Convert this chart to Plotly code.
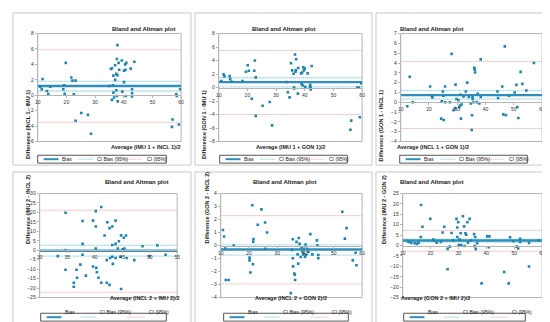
import plotly.graph_objects as go

# ---------------- data ----------------
p1_x = [11.7, 10.9, 11.4, 13.2, 13.7, 14.4, 18.9, 19.2, 19.4, 19.8, 21.7, 22.1, 22.6, 23.2, 23.2, 25.2, 27.5, 28.6,
        34.9, 35.5, 35.9, 35.9, 36.2, 36.4, 36.4, 36.6, 37.0, 37.0, 37.4, 37.4, 37.6, 37.6, 37.8, 37.8, 37.9, 38.2,
        38.4, 39.3, 39.5, 40.1, 40.1, 40.5, 40.6, 40.7, 40.9, 42.4, 42.9, 42.9, 42.9, 43.7, 56.8, 57.0, 58.3, 58.5,
        59.2, 59.7]
p1_y = [2.1, 1.1, 0.77, 0.55, 0.17, 1.1, 0.77, 1.28, 0.2, 4.2, 2.3, 1.9, 0.13, 1.9, -3.3, -2.3, -2.55, -5.0,
        1.2, 3.4, 3.5, -0.6, 1.28, 0.34, 2.55, -0.3, 3.9, 2.0, 2.77, 0.64, 4.7, -0.09, 6.5, 2.6, -0.8, 4.2,
        3.3, 4.5, 0.47, 1.7, 3.2, 4.0, 3.3, -0.1, 4.2, 3.45, 0.77, 0.26, -0.17, 4.35, -4.1, -3.15, 0.13, -0.1,
        -3.8, 0.77]

p2_x = [10.9, 11.7, 12.0, 13.8, 14.0, 14.4, 18.3, 19.5, 20.1, 20.5, 21.5, 22.4, 22.6, 22.9, 22.9, 25.3, 27.8, 28.6,
        33.6, 34.1, 34.7, 35.2, 35.6, 36.1, 36.2, 36.3, 36.6, 36.8, 36.9, 37.0, 37.6, 37.7, 38.7, 38.9, 39.1, 39.3,
        39.5, 39.7, 40.0, 40.2, 41.0, 41.9, 42.1, 42.1, 42.4, 41.8, 56.2, 55.9, 58.3, 58.9, 59.2, 59.7]
p2_y = [0.98, 1.95, 1.66, 1.7, 1.27, 0.88, 0.98, 2.34, 3.3, 2.5, -1.66, 2.5, 4.0, 1.5, -4.2, -2.7, -2.15, -5.6,
        0.83, -0.7, -1.46, 3.6, 2.54, 2.05, 0.0, -0.15, 4.9, 2.34, 2.54, 4.2, -0.9, 2.9, 2.1, 0.54, 2.24, 0.3,
        3.0, 2.54, 2.8, 0.1, 2.1, 0.4, -0.05, -0.3, 3.2, 0.1, -4.9, -6.25, 0.0, 0.0, -4.4, 0.63]

p3_x = [12.3, 13.2, 14.3, 20.4, 21.0, 21.2, 24.3, 24.5, 24.9, 25.1, 25.2, 25.7, 25.7, 27.4, 28.0, 28.7, 29.2, 29.4,
        29.7, 30.4, 30.7, 31.0, 31.1, 31.3, 31.5, 32.2, 33.0, 33.5, 34.1, 34.8, 35.1, 35.2, 35.4, 35.5, 35.7, 36.0,
        36.2, 36.3, 36.9, 37.2, 37.8, 38.3, 38.3, 44.2, 44.4, 45.9, 46.3, 46.8, 47.2, 48.3, 50.3, 50.9, 51.2, 51.6,
        52.4, 53.0, 54.4, 57.1]
p3_y = [-0.4, 2.6, 0.0, 1.6, 0.67, 0.5, -1.67, 0.1, 1.1, 0.67, -1.8, 1.6, 0.0, 0.0, 4.93, -0.8, -0.6, 1.8,
        0.33, 0.2, -0.5, -0.33, 0.77, -1.67, -0.23, 0.6, 1.1, 2.0, 0.53, -0.13, -2.83, -1.33, 0.5, 0.33, 0.0, 3.5,
        3.33, 3.03, 0.0, 0.87, -0.13, 4.37, 0.53, 1.1, 0.43, 1.6, -1.23, 5.7, -1.33, 0.67, 1.0, 1.77, -0.5, -1.6,
        3.1, 1.87, 1.2, 4.0]

p4_x = [33.3, 34.7, 34.7, 34.7, 36.2, 36.2, 36.7, 36.8, 37.4, 37.8, 37.8, 37.8, 38.4, 39.7, 39.7, 40.2, 40.2, 40.2,
        40.3, 40.4, 40.7, 41.2, 41.2, 41.8, 42.3, 42.2, 42.2, 42.7, 42.7, 42.8, 43.2, 43.2, 43.2, 43.3, 43.8, 43.8,
        43.8, 44.2, 44.4, 44.7, 44.8, 44.8, 45.1, 45.3, 45.4, 45.7, 45.8, 47.2, 48.7, 50.0, 51.4, 52.9]
p4_y = [-3.1, 19.8, 0.0, -10.3, -17.2, -19.3, -10.3, -14.5, -7.6, 15.5, 3.4, -2.4, -13.4, 15.7, -8.6, 20.7, 12.6, 0.9,
        -9.3, -11.6, -14.5, 22.9, -17.2, 7.8, 14.8, -5.2, -17.2, 11.7, -18.3, -4.1, 12.6, 2.8, -3.4, -7.2, 15.7, 3.4,
        -4.1, 0.9, 4.8, -3.4, -20.5, 7.9, 0.5, 6.6, 0.9, 7.8, -4.1, -5.2, 2.1, -3.1, 2.6, -2.4]

p5_x = [10.8, 11.2, 11.6, 11.8, 12.8, 14.6, 20.2, 20.2, 20.5, 21.2, 21.4, 21.6, 21.5, 23.1, 24.4, 25.7, 25.8, 26.4,
        35.2, 35.5, 35.5, 35.6, 36.0, 36.2, 36.3, 34.8, 36.8, 37.2, 37.4, 37.6, 37.9, 38.3, 38.6, 38.9, 39.2, 39.5,
        39.8, 40.0, 40.1, 40.5, 41.0, 41.7, 42.4, 44.0, 44.2, 44.5, 44.5, 53.0, 53.9, 54.5, 56.7, 57.7, 58.0]
p5_y = [1.19, 0.7, -0.23, -2.65, -2.65, 0.0, -0.93, -1.14, -2.07, 3.1, -1.44, 0.5, 0.3, 1.6, 2.78, 1.77, -0.25, 1.0,
        -0.33, 0.48, -0.98, -1.6, -2.15, -2.25, -2.65, -3.66, 0.28, -0.68, -1.39, 0.58, 0.13, -0.88, -0.13, -0.48, -0.68, -0.25,
        -0.88, 0.08, -0.73, -0.25, -0.48, 0.88, -0.68, 0.4, 0.0, -0.73, -0.98, 2.6, 0.53, 1.34, -1.14, -0.56, -1.52]

p6_x = [12.1, 13.1, 14.3, 15.1, 15.7, 16.6, 16.5, 17.1, 19.9, 21.0, 21.2, 22.2, 23.7, 24.3, 24.9, 26.1, 26.1, 26.9,
        27.5, 28.1, 29.3, 29.6, 29.9, 29.6, 30.1, 30.4, 30.8, 31.0, 31.6, 32.0, 32.2, 32.5, 32.8, 33.2, 33.4, 34.0,
        34.4, 35.6, 35.8, 36.0, 36.2, 36.7, 38.3, 40.3, 41.1, 40.9, 46.4, 48.0, 48.5, 49.7, 50.9, 51.4, 52.1, 52.1,
        55.3, 55.3, 58.8]
p6_y = [1.7, 1.3, 1.1, 0.8, 1.4, 19.5, 4.1, 9.0, 12.8, 2.85, 2.4, 1.4, 1.7, 6.3, 9.0, -11.4, -1.6, -0.5,
        6.0, 2.5, 12.8, 8.7, 11.2, 4.1, 0.2, 2.85, 5.9, 0.2, 14.1, 9.2, -0.2, 5.9, 5.2, 11.2, 1.4, 12.8,
        2.4, 5.5, -0.3, 4.1, -1.7, 1.1, -18.2, 4.4, 4.4, -0.8, -12.7, -18.2, 4.0, 2.1, -0.5, -1.4, 3.2, 1.7,
        -10.1, 1.3, 2.4]

bias = [1.2, 0.8, 0.73, -0.25, -0.3, 2.4]
ci_bias_hi = [1.8, 1.45, 1.2, 2.6, 0.05, 3.1]
ci_bias_lo = [0.55, 0.1, 0.33, -3.1, -0.73, 1.7]
loa_hi = [5.9, 5.5, 4.15, 21.2, 2.3, 7.3]
loa_lo = [-3.5, -4.0, -2.67, -22.2, -2.95, -2.7]

x_titles = ["Average (IMU 1 + INCL 1)/2", "Average (IMU 1 + GON 1)/2", "Average (INCL 1 + GON 1)/2",
            "Average (INCL 2 + IMU 2)/2", "Average (INCL 2 + GON 2)/2", "Average (GON 2 + IMU 2)/2"]
y_titles = ["Difference (INCL 1 - IMU 1)", "Difference (GON 1 - IMU 1)", "Difference (GON 1 - INCL 1)",
            "Difference (IMU 2 - INCL 2)", "Difference (GON 2 - INCL 2)", "Difference (IMU 2 - GON 2)"]
x_ranges = [[10, 60], [10, 60], [10, 60], [30, 55], [10, 60], [10, 60]]
x_dticks = [10, 10, 10, 5, 10, 10]
y_ranges = [[-6, 8], [-8, 8], [-4, 7], [-25, 30], [-4, 4], [-25, 25]]
y_dticks = [2, 2, 1, 5, 1, 5]
plot_title = "Bland and Altman plot"
legend_labels = ["Bias", "CI Bias (95%)", "CI (95%)"]

xs = [p1_x, p2_x, p3_x, p4_x, p5_x, p6_x]
ys = [p1_y, p2_y, p3_y, p4_y, p5_y, p6_y]

# ---------------- layout geometry (pixels) ----------------
W, H = 550, 322
plot_px = [(27, 172, 23, 133), (210, 355, 23, 133), (394, 537, 23, 133),
           (29, 168, 186, 292), (212, 355, 186, 292), (396, 537, 186, 292)]
box_px = [(2, 182, 2, 157), (186, 365, 2, 157), (369, 547, 2, 157),
          (2, 182, 164, 319), (186, 365, 164, 319), (369, 547, 164, 319)]
legend_px = [(27, 157, 147, 155), (211, 340, 147, 155), (393, 522, 147, 155),
             (30, 157, 308, 316), (215, 341, 308, 316), (397, 520, 308, 316)]
title_px = [(100, 13), (276, 13), (459, 13), (93, 174), (277, 174), (459, 174)]
ytitle_x = [12, 195, 379, 12, 198, 382]
xtitle_y = [138.5, 138.5, 138.5, 298, 298, 298]

BLUE = "#1d86b0"
BIAS_C = "#2e8fbd"
CIB_C = "#7fcbe0"
LOA_C = "#f29a9a"
GRAY = "#b5b5b5"
FONT = "Liberation Sans"
DOT = "1px,1px"


def fx(px):
    return px / W


def fy(py):
    return 1 - py / H


fig = go.Figure()
layout = dict(width=W, height=H, margin=dict(l=0, r=0, t=0, b=0),
              paper_bgcolor="white", plot_bgcolor="white", showlegend=False,
              font=dict(family=FONT, size=5, color="#222"))
shapes = []
annotations = []

for i in range(6):
    n = "" if i == 0 else str(i + 1)
    xa, ya = "x" + n, "y" + n
    L, R, T, B = plot_px[i]
    y0, y1 = y_ranges[i]
    zero_frac = (0 - y0) / (y1 - y0)
    pos = fy(B) + zero_frac * (fy(T) - fy(B))
    layout["xaxis" + n] = dict(domain=[fx(L), fx(R)], range=x_ranges[i], dtick=x_dticks[i],
                               anchor="free", position=pos, showgrid=False, zeroline=False,
                               showline=True, linecolor=GRAY, linewidth=1, ticks="outside",
                               ticklen=2, tickcolor=GRAY, tickfont=dict(size=5, color="#333"))
    layout["yaxis" + n] = dict(domain=[fy(B), fy(T)], range=y_ranges[i], dtick=y_dticks[i],
                               anchor=xa, showgrid=False, zeroline=False, showline=True,
                               linecolor=GRAY, linewidth=1, ticks="outside", ticklen=2,
                               tickcolor=GRAY, tickfont=dict(size=5, color="#333"))
    xr = x_ranges[i]
    for val, col, wid, dash in [(loa_hi[i], LOA_C, 1, DOT), (loa_lo[i], LOA_C, 1, DOT),
                                (ci_bias_hi[i], CIB_C, 1.3, DOT), (ci_bias_lo[i], CIB_C, 1.3, DOT),
                                (bias[i], BIAS_C, 2.4, "solid")]:
        fig.add_trace(go.Scatter(x=xr, y=[val, val], mode="lines", xaxis=xa, yaxis=ya,
                                 line=dict(color=col, width=wid, dash=dash), hoverinfo="skip"))
    fig.add_trace(go.Scatter(x=xs[i], y=ys[i], mode="markers", xaxis=xa, yaxis=ya,
                             marker=dict(symbol="square", size=2.6, color=BLUE)))
    shapes.append(dict(type="rect", xref="paper", yref="paper", x0=fx(L), x1=fx(R), y0=fy(B), y1=fy(T),
                       line=dict(color=GRAY, width=1), fillcolor="rgba(0,0,0,0)", layer="below"))
    bl, br, bt, bb = box_px[i]
    shapes.append(dict(type="rect", xref="paper", yref="paper", x0=fx(bl), x1=fx(br), y0=fy(bb), y1=fy(bt),
                       line=dict(color="#c8c8c8", width=1), fillcolor="rgba(0,0,0,0)"))
    tx, ty = title_px[i]
    annotations.append(dict(text="<b>" + plot_title + "</b>", x=fx(tx), y=fy(ty), xref="paper", yref="paper",
                            showarrow=False, font=dict(size=6, color="#222")))
    annotations.append(dict(text="<b>" + x_titles[i] + "</b>", x=fx((L + R) / 2), y=fy(xtitle_y[i]),
                            xref="paper", yref="paper", showarrow=False, font=dict(size=5.5, color="#222")))
    annotations.append(dict(text="<b>" + y_titles[i] + "</b>", x=fx(ytitle_x[i]), y=fy((T + B) / 2),
                            xref="paper", yref="paper", showarrow=False, textangle=-90,
                            font=dict(size=5.5, color="#222")))
    ll, lr, lt, lb = legend_px[i]
    shapes.append(dict(type="rect", xref="paper", yref="paper", x0=fx(ll), x1=fx(lr), y0=fy(lb), y1=fy(lt),
                       line=dict(color="#555", width=1), fillcolor="white"))
    ym = (lt + lb) / 2
    items = [(6, 21, 23, BIAS_C, 2, "solid"), (41, 56, 58, CIB_C, 1.2, DOT), (88, 105, 108, LOA_C, 1, DOT)]
    for k, (s0, s1, t0, col, wid, dash) in enumerate(items):
        shapes.append(dict(type="line", xref="paper", yref="paper", x0=fx(ll + s0), x1=fx(ll + s1),
                           y0=fy(ym), y1=fy(ym), line=dict(color=col, width=wid, dash=dash)))
        annotations.append(dict(text=legend_labels[k], x=fx(ll + t0), y=fy(ym), xref="paper", yref="paper",
                                xanchor="left", showarrow=False, font=dict(size=5, color="#222")))

layout["shapes"] = shapes
layout["annotations"] = annotations
fig.update_layout(**layout)
fig.write_html("out.html")
